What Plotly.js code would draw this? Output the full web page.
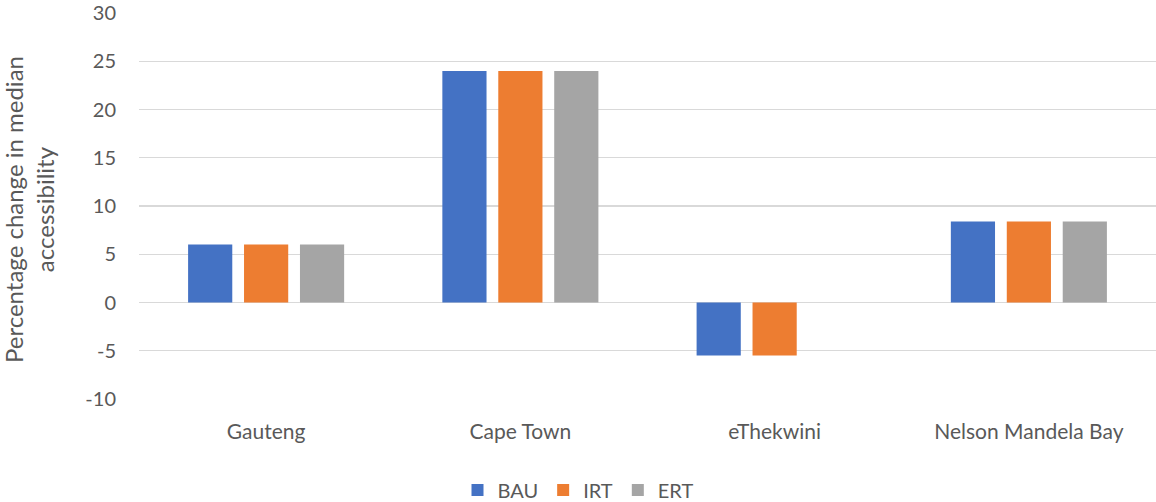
<!DOCTYPE html>
<html><head><meta charset="utf-8">
<script src="https://cdn.plot.ly/plotly-3.0.1.min.js"></script>
<style>html,body{margin:0;padding:0;background:#fff}#chart{width:1156px;height:502px}</style>
</head><body><div id="chart"></div>
<script>
const categories = ["Gauteng", "Cape Town", "eThekwini", "Nelson Mandela Bay"];
const bauValues = [6.0, 24.0, -5.5, 8.4];
const irtValues = [6.0, 24.0, -5.5, 8.4];
const ertValues = [6.0, 24.0, 0, 8.4];
const seriesNames = ["BAU", "IRT", "ERT"];
const yTicks = [-10, -5, 0, 5, 10, 15, 20, 25, 30];
const yTitle = "Percentage change in median<br>accessibility";

const colors = ["#4472C4", "#ED7D31", "#A5A5A5"];
const data = [bauValues, irtValues, ertValues].map((vals, i) => ({
  type: "bar", x: categories, y: vals, name: seriesNames[i],
  marker: {color: colors[i]}, hoverinfo: "none"
}));

const layout = {
  width: 1156, height: 502,
  margin: {l: 139, r: 0, t: 13, b: 103},
  paper_bgcolor: "#fff", plot_bgcolor: "#fff",
  font: {family: "Lato, 'Open Sans', sans-serif", size: 20, color: "#595959"},
  barmode: "group", bargap: 0.34, bargroupgap: 0.21,
  xaxis: {showgrid: false, showline: false, zeroline: false, ticks: "outside", ticklen: 14,
    tickcolor: "rgba(0,0,0,0)", automargin: false,
    tickfont: {size: 21, color: "#595959"}, fixedrange: true},
  yaxis: {range: [-10, 30], tickvals: yTicks, ticktext: yTicks.map(String), automargin: false,
    showgrid: true, gridcolor: "#d9d9d9", gridwidth: 1.3,
    zeroline: true, zerolinecolor: "#d9d9d9", zerolinewidth: 1.3,
    showline: false, ticks: "outside", ticklen: 18, tickcolor: "rgba(0,0,0,0)",
    tickfont: {size: 20, color: "#595959"}, fixedrange: true},
  annotations: [{text: yTitle, textangle: -90, xref: "paper", yref: "paper",
    x: -0.108, y: 0.49, xanchor: "center", yanchor: "middle", showarrow: false,
    font: {size: 24, color: "#595959"}}],
  showlegend: true,
  legend: {orientation: "h", x: 0.5, xref: "container", xanchor: "center",
    y: 0.024, yref: "container", yanchor: "middle",
    font: {size: 20, color: "#595959"}, itemwidth: 30, traceorder: "normal"}
};
Plotly.newPlot("chart", data, layout, {displayModeBar: false, staticPlot: true});
</script></body></html>
